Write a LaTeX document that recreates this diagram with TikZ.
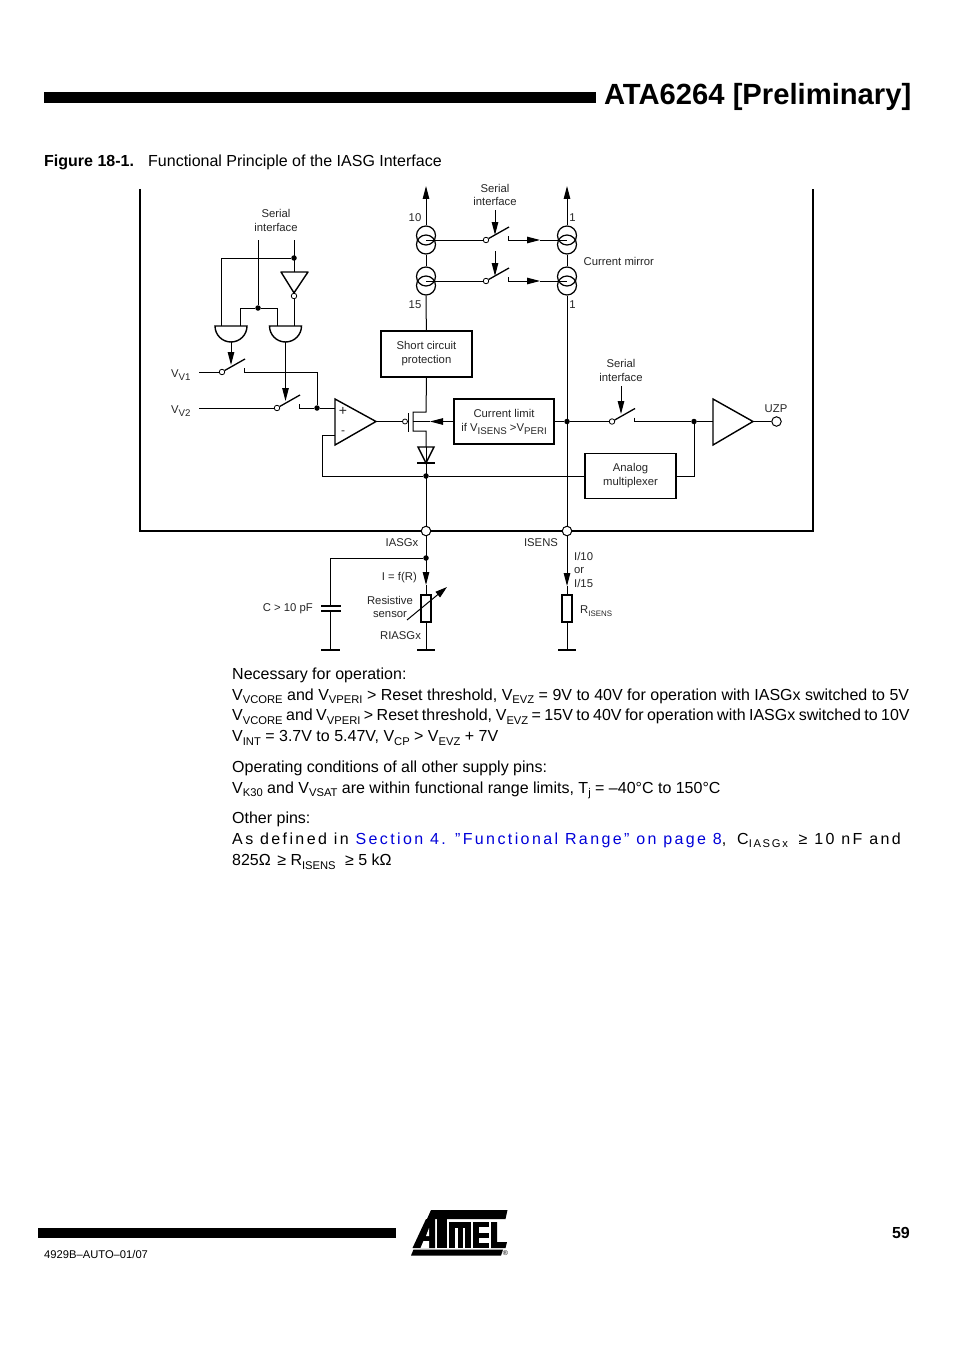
\documentclass[tikz,border=0pt]{standalone}
\usepackage{fontspec}
\setmainfont{Liberation Sans}
\newfontfamily\spacedfont[LetterSpace=15]{Liberation Sans}
\usetikzlibrary{arrows.meta}
\newcommand{\sbs}[1]{\raisebox{-.24em}{\scalebox{.7}{#1}}}
\newcommand{\lbs}[1]{\raisebox{-.26em}{\scalebox{.86}{#1}}}
\definecolor{linkblue}{rgb}{0,0,.85}
\tikzset{
  lbl/.style = {inner sep = 0pt, yshift = -.7pt, text = black!85, font = \fontsize{11.3}{12}\selectfont},
  body/.style = {inner sep = 0pt, anchor = base west, font = \fontsize{16}{18}\selectfont},
  wire/.style = {line width = 1pt},
  blade/.style = {line width = 1.3pt},
  head/.style = {wire, -{Triangle[length = 13pt, width = 6.5pt]}},
  boxed/.style = {draw, line width = 1.4pt, inner sep = 0pt, align = center, text = black!85, font = \fontsize{11.3}{14}\selectfont},
  dot/.style = {circle, fill, inner sep = 0pt, minimum size = 5.5pt},
  hollow/.style = {circle, draw, fill = white, line width = .8pt, inner sep = 0pt, minimum size = 5.5pt},
  pin/.style = {circle, draw, fill = white, line width = 1pt, inner sep = 0pt, minimum size = 9.5pt},
  coil/.style = {circle, draw, line width = 1.2pt, inner sep = 0pt, minimum size = 19pt},
  plate/.style = {line width = 1.4pt},
}
\begin{document}
\begin{tikzpicture}[x = 1pt, y = -1pt]
\useasboundingbox (0,0) rectangle (954,1351);
\fill[white] (0,0) rectangle (954,1351);

\fill (44,92) rectangle (596,103);
\node[inner sep = 0pt, anchor = base east, font = \fontsize{29.2}{30}\selectfont\bfseries] (title) at (911.5,105) {ATA6264 [Preliminary]};
\node[body, font = \fontsize{16}{18}\selectfont\bfseries] (fignum) at (44,166.7) {Figure 18-1.};
\node[body] (figcap) at (148,166.7) {Functional Principle of the IASG Interface};

\draw[line width = 2pt] (140,189) -- (140,531) -- (813,531) -- (813,189);

\foreach \nm/\x/\y in {mla/426/240, mlb/426/281, mra/567/240, mrb/567/281}{
   \node[coil] (\nm t) at (\x,\y-4.5) {};
   \node[coil] (\nm b) at (\x,\y+4.5) {};
   \coordinate (\nm) at (\x,\y);
   }
\foreach \nm/\x/\y in {swa/222/372, swb/277/408, swc/486/240, swd/486/281, swe/612/421.5}{
   \node[hollow] (\nm) at (\x,\y) {};
   \coordinate (\nm top) at (\x+23,\y-13);
   \coordinate (\nm out) at (\x+22,\y-4);
   \coordinate (\nm end) at (\x+22,\y);
   \draw[blade] (\nm) -- (\nm top);
   \draw[wire] (\nm out) -- (\nm end);
   }

\coordinate (topl) at (426,186);
\coordinate (topr) at (567,186);
\node[boxed, minimum width = 91pt, minimum height = 46pt] (shp) at (426.5,354) {Short circuit\\protection};
\node[boxed, minimum width = 100pt, minimum height = 45pt] (lim) at (504,421.5) {Current limit\\if V\lbs{ISENS} >V\lbs{PERI}};
\node[boxed, minimum width = 91pt, minimum height = 45pt] (mux) at (630.5,476) {Analog\\multiplexer};
\node[pin] (iasg) at (426,531) {};
\node[pin] (isens) at (567,531) {};
\node[dot] (djoin) at (426,476) {};
\node[dot] (dcur) at (567,421.5) {};
\node[dot] (dbuf) at (694,421.5) {};
\node[dot] (dplus) at (317,408) {};
\node[dot] (dser) at (294,258) {};
\node[dot] (dsel) at (258,308) {};
\node[dot] (dcap) at (426,558) {};
\node[pin] (uzp) at (776.5,421.5) {};

\draw[head] (mlat) -- (topl);
\draw[head] (mrat) -- (topr);
\draw[wire] (mlab) -- (mlbt);
\draw[wire] (mrab) -- (mrbt);
\draw[wire] (mlbb) -- (shp);
\draw[wire] (mrbb) -- (isens);
\draw[wire] (mla) -- (swc);
\draw[wire] (mlb) -- (swd);
\foreach \nm/\y/\r in {tipc/240/mra, tipd/281/mrb}{
   \coordinate (\nm) at (540,\y);
   \draw[wire] (\nm) -- (\r);
   }
\draw[head] (swcend) -- (tipc);
\draw[head] (swdend) -- (tipd);
\draw[wire] (iasg) -- (426,447);

\coordinate (sera) at (495,210);
\coordinate (serb) at (495,251);
\coordinate (serc) at (621,386);
\coordinate (arra) at (495,235);
\coordinate (arrb) at (495,276);
\coordinate (arrc) at (621,414);
\draw[head] (sera) -- (arra);
\draw[head] (serb) -- (arrb);
\draw[head] (serc) -- (arrc);

\coordinate (sell) at (258,240);
\coordinate (serl) at (294,240);
\coordinate (anda) at (231,326);
\coordinate (andb) at (285.5,326);
\draw[wire] (sell) -- (dsel);
\draw[wire] (serl) -- (294,272);
\draw[wire] (dser) -- (221,258) -- (221,326);
\draw[wire] (240,326) -- (240,308) -- (dsel) -- (277,308) -- (277,326);
\node[hollow, minimum size = 5.5pt] (inv) at (294,296) {};
\draw[wire] (inv) -- (294,326);
\draw[plate, line join = round] (281,272) -- (308,272) -- (inv.north) -- cycle;
\foreach \c in {231,285.5}
   \draw[plate, fill = white] (\c-16,326) -- (\c+16,326) arc[start angle = 0, end angle = 180, radius = 16] -- cycle;
\coordinate (arrd) at (231,365);
\coordinate (arre) at (285.5,401);
\draw[head] (231,342) -- (arrd);
\draw[head] (285.5,342) -- (arre);

\coordinate (vone) at (199,372);
\coordinate (vtwo) at (199,408);
\draw[wire] (vone) -- (swa);
\draw[wire] (vtwo) -- (swb);
\draw[wire] (swaend) -- (317,372) -- (dplus);
\draw[wire] (swbend) -- (dplus) -- (335,408);

\draw[plate, line join = miter] (335,399) -- (335,445) -- (376,421.5) -- cycle;
\node[lbl, font = \fontsize{14}{14}\selectfont] (plus) at (343,411) {+};
\node[lbl, font = \fontsize{12}{12}\selectfont] (minus) at (343,432) {-};
\draw[wire] (335,435) -- (322,435) -- (322,476) -- (djoin) -- (mux.west);

\node[hollow, minimum size = 5pt] (gate) at (405,421.5) {};
\draw[wire] (376,421.5) -- (gate);
\draw[line width = 1pt] (408,413) -- (408,432);
\draw[wire] (shp.south) -- (426,412) -- (413,412) -- (413,431) -- (426,431) -- (426,447);
\coordinate (chan) at (413,421.5);
\coordinate (arrf) at (430,421.5);
\draw[head] (lim.west) -- (arrf);
\draw[wire] (arrf) -- (chan);
\draw[plate] (418,447) -- (434,447) -- (426,463) -- cycle;
\draw[plate] (417,463) -- (435,463);

\draw[wire] (lim.east) -- (dcur) -- (swe);
\draw[wire] (sweend) -- (dbuf) -- (713,421.5);
\draw[wire] (mux.east) -- (694,476) -- (dbuf);
\draw[plate] (713,399) -- (713,445) -- (753,421.5) -- cycle;
\draw[wire] (753,421.5) -- (uzp);

\node[boxed, minimum width = 10pt, minimum height = 27pt, fill = white] (rsen) at (426,608.5) {};
\node[boxed, minimum width = 10pt, minimum height = 27pt, fill = white] (risens) at (567,608.5) {};
\coordinate (arrg) at (426,585);
\coordinate (arrh) at (567,586);
\coordinate (gnda) at (426,650);
\coordinate (gndb) at (567,650);
\coordinate (gndc) at (330.5,650);
\draw[head] (iasg) -- (arrg);
\draw[wire] (arrg) -- (rsen);
\draw[head] (isens) -- (arrh);
\draw[wire] (arrh) -- (risens);
\draw[wire] (rsen) -- (gnda);
\draw[wire] (risens) -- (gndb);
\draw[wire] (dcap) -- (330.5,558) -- (330.5,606);
\draw[wire] (330.5,611) -- (gndc);
\draw[plate] (321,606) -- (341,606);
\draw[plate] (321,611) -- (341,611);
\foreach \c/\d in {426/9, 567/9, 330.5/9.5}
   \draw[plate] (\c-\d,650) -- (\c+\d,650);
\draw[wire, -{Triangle[length = 12pt, width = 7pt]}] (407,620) -- (447,587);

\node[lbl] (seral) at (276,213) {Serial};
\node[lbl] (serbl) at (276,227) {interface};
\node[lbl] (sercl) at (495,188) {Serial};
\node[lbl] (serdl) at (495,201) {interface};
\node[lbl] (serel) at (621,362.7) {Serial};
\node[lbl] (serfl) at (621,376.7) {interface};
\node[lbl] (tena) at (415,217) {10};
\node[lbl] (fifteen) at (415,304) {15};
\node[lbl] (onea) at (572.5,217) {1};
\node[lbl] (oneb) at (572.5,304) {1};
\node[lbl, anchor = west] (mirror) at (583.5,261) {Current mirror};
\node[lbl, anchor = base west] (vonel) at (171,377) {V\lbs{V1}};
\node[lbl, anchor = base west] (vtwol) at (171,413) {V\lbs{V2}};
\node[lbl] (uzpl) at (776,408) {UZP};
\node[lbl] (iasgl) at (402,542) {IASGx};
\node[lbl] (isensl) at (541,542) {ISENS};
\node[lbl, anchor = west] (ita) at (574,556) {I/10};
\node[lbl, anchor = west] (itb) at (574,569.5) {or};
\node[lbl, anchor = west] (itc) at (574,583) {I/15};
\node[lbl, anchor = east] (ifr) at (417,577) {I = f(R)};
\node[lbl] (resa) at (390,599.8) {Resistive};
\node[lbl] (resb) at (390,613.8) {sensor};
\node[lbl] (riasg) at (400.5,635) {RIASGx};
\node[lbl, anchor = east] (capl) at (313,608) {C > 10 pF};
\node[lbl, anchor = base west] (rsl) at (580,613) {R\sbs{ISENS}};

\node[body] (txa) at (232,679) {Necessary for operation:};
\node[body] (txb) at (232,700) {\makebox[677pt][s]{V\sbs{VCORE} and V\sbs{VPERI} > Reset threshold, V\sbs{EVZ} = 9V to 40V for operation with IASGx switched to 5V}};
\node[body] (txc) at (232,720.5) {\makebox[677.5pt][s]{V\sbs{VCORE} and V\sbs{VPERI} > Reset threshold, V\sbs{EVZ} = 15V to 40V for operation with IASGx switched to 10V}};
\node[body] (txd) at (232,741.5) {V\sbs{INT} = 3.7V to 5.47V, V\sbs{CP} > V\sbs{EVZ} + 7V};
\node[body] (txe) at (232,772.5) {Operating conditions of all other supply pins:};
\node[body] (txf) at (232,793) {V\sbs{K30} and V\sbs{VSAT} are within functional range limits, T\sbs{j} = –40°C to 150°C};
\node[body] (txg) at (232,823) {Other pins:};
\node[body] (txh) at (232,844) {\spacedfont As defined in \textcolor{linkblue}{Section 4. ”Functional Range” on page 8},\hspace{4pt} C\sbs{IASGx}\hspace{4pt} ≥ 10 nF and};
\node[body] (txi) at (232,865.5) {825Ω\hspace{2pt} ≥ R\sbs{ISENS}\hspace{5pt} ≥ 5 kΩ};

\fill (38,1228) rectangle (396,1238);
\node[inner sep = 0pt, anchor = base west, font = \fontsize{11.2}{12}\selectfont] (code) at (44,1258) {4929B–AUTO–01/07};
\node[inner sep = 0pt, anchor = base east, font = \fontsize{16}{18}\selectfont\bfseries] (pageno) at (910,1238) {59};

\fill (431,1210) -- (507.5,1210) -- (505.5,1219) -- (427,1219) -- cycle;
\fill (411,1255.5) -- (501,1255.5) -- (503,1249.5) -- (413.5,1249.5) -- cycle;
\fill (426,1219) -- (435,1219) -- (435,1248) -- (412.5,1248) -- cycle;
\fill[white] (426,1236) -- (429,1228) -- (429,1236) -- cycle;
\fill[white] (423.5,1241) -- (429,1241) -- (429,1248) -- (420.5,1248) -- cycle;
\fill (437,1219) rectangle (447,1248);
\fill (449,1222) rectangle (470.5,1248);
\fill[white] (455,1228) rectangle (457.5,1248);
\fill[white] (462.5,1228) rectangle (465,1248);
\fill (473,1222) rectangle (488.5,1248);
\fill[white] (479,1227) rectangle (488.5,1233);
\fill[white] (479,1238) rectangle (488.5,1243);
\fill (491,1222) -- (497,1222) -- (497,1242) -- (507,1242) -- (505.5,1248) -- (491,1248) -- cycle;
\node[inner sep = 0pt, font = \fontsize{7}{7}\selectfont] (reg) at (505.5,1253) {®};
\end{tikzpicture}
\end{document}
